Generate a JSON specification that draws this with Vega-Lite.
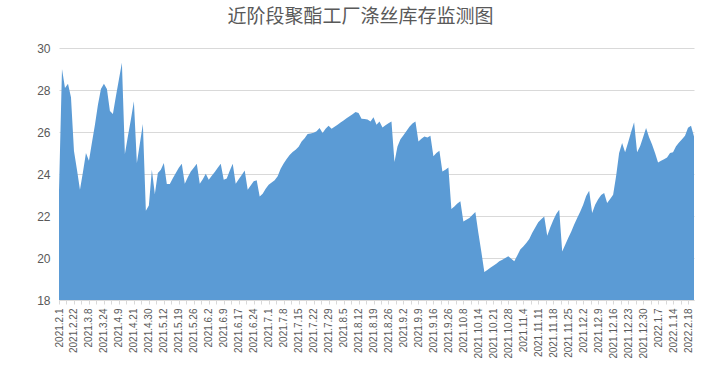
{
  "$schema": "https://vega.github.io/schema/vega-lite/v6.json",
  "width": 635,
  "height": 252,
  "autosize": {"type": "none"},
  "padding": {"left": 59, "top": 48, "right": 27, "bottom": 73},
  "background": "white",
  "title": {
    "text": "近阶段聚酯工厂涤丝库存监测图",
    "font": "Noto Sans CJK SC",
    "fontSize": 19,
    "fontWeight": "normal",
    "color": "#595959",
    "anchor": "middle",
    "dx": -16,
    "offset": 15
  },
  "data": {"values": [
    {"i":0,"v":23.2},{"i":1,"v":29.0},{"i":2,"v":28.1},{"i":3,"v":28.3},{"i":4,"v":27.65},{"i":5,"v":25.1},{"i":6,"v":24.2},{"i":7,"v":23.25},{"i":8,"v":24.1},{"i":9,"v":25.0},
    {"i":10,"v":24.63},{"i":11,"v":25.5},{"i":12,"v":26.35},{"i":13,"v":27.3},{"i":14,"v":28.05},{"i":15,"v":28.3},{"i":16,"v":28.05},{"i":17,"v":27.0},{"i":18,"v":26.86},{"i":19,"v":27.7},
    {"i":20,"v":28.5},{"i":21,"v":29.3},{"i":22,"v":24.95},{"i":23,"v":25.8},{"i":24,"v":26.6},{"i":25,"v":27.46},{"i":26,"v":24.52},{"i":27,"v":25.45},{"i":28,"v":26.38},{"i":29,"v":22.25},
    {"i":30,"v":22.5},{"i":31,"v":24.2},{"i":32,"v":23.05},{"i":33,"v":24.05},{"i":34,"v":24.2},{"i":35,"v":24.52},{"i":36,"v":23.52},{"i":37,"v":23.52},{"i":38,"v":23.8},{"i":39,"v":24.05},
    {"i":40,"v":24.3},{"i":41,"v":24.49},{"i":42,"v":23.54},{"i":43,"v":23.85},{"i":44,"v":24.12},{"i":45,"v":24.3},{"i":46,"v":24.49},{"i":47,"v":23.54},{"i":48,"v":23.75},{"i":49,"v":24.01},
    {"i":50,"v":23.73},{"i":51,"v":23.92},{"i":52,"v":24.1},{"i":53,"v":24.3},{"i":54,"v":24.49},{"i":55,"v":23.73},{"i":56,"v":23.78},{"i":57,"v":24.15},{"i":58,"v":24.49},{"i":59,"v":23.54},
    {"i":60,"v":23.75},{"i":61,"v":23.95},{"i":62,"v":24.17},{"i":63,"v":23.25},{"i":64,"v":23.45},{"i":65,"v":23.65},{"i":66,"v":23.7},{"i":67,"v":22.93},{"i":68,"v":23.06},{"i":69,"v":23.3},
    {"i":70,"v":23.49},{"i":71,"v":23.6},{"i":72,"v":23.7},{"i":73,"v":23.89},{"i":74,"v":24.25},{"i":75,"v":24.5},{"i":76,"v":24.71},{"i":77,"v":24.9},{"i":78,"v":25.05},{"i":79,"v":25.15},
    {"i":80,"v":25.3},{"i":81,"v":25.55},{"i":82,"v":25.7},{"i":83,"v":25.9},{"i":84,"v":25.93},{"i":85,"v":25.96},{"i":86,"v":26.03},{"i":87,"v":26.19},{"i":88,"v":25.95},{"i":89,"v":26.15},
    {"i":90,"v":26.3},{"i":91,"v":26.16},{"i":92,"v":26.25},{"i":93,"v":26.35},{"i":94,"v":26.45},{"i":95,"v":26.55},{"i":96,"v":26.65},{"i":97,"v":26.75},{"i":98,"v":26.85},{"i":99,"v":26.95},
    {"i":100,"v":26.9},{"i":101,"v":26.63},{"i":102,"v":26.62},{"i":103,"v":26.59},{"i":104,"v":26.5},{"i":105,"v":26.7},{"i":106,"v":26.35},{"i":107,"v":26.5},{"i":108,"v":26.22},{"i":109,"v":26.32},
    {"i":110,"v":26.42},{"i":111,"v":26.5},{"i":112,"v":24.57},{"i":113,"v":25.31},{"i":114,"v":25.65},{"i":115,"v":25.85},{"i":116,"v":26.05},{"i":117,"v":26.25},{"i":118,"v":26.4},{"i":119,"v":26.5},
    {"i":120,"v":25.55},{"i":121,"v":25.68},{"i":122,"v":25.79},{"i":123,"v":25.74},{"i":124,"v":25.82},{"i":125,"v":24.84},{"i":126,"v":25.0},{"i":127,"v":25.11},{"i":128,"v":24.12},{"i":129,"v":24.2},
    {"i":130,"v":24.31},{"i":131,"v":22.33},{"i":132,"v":22.45},{"i":133,"v":22.6},{"i":134,"v":22.7},{"i":135,"v":21.74},{"i":136,"v":21.82},{"i":137,"v":21.9},{"i":138,"v":22.05},{"i":139,"v":22.19},
    {"i":140,"v":21.2},{"i":141,"v":20.3},{"i":142,"v":19.33},{"i":143,"v":19.43},{"i":144,"v":19.53},{"i":145,"v":19.63},{"i":146,"v":19.73},{"i":147,"v":19.84},{"i":148,"v":19.92},{"i":149,"v":20.0},
    {"i":150,"v":20.08},{"i":151,"v":19.96},{"i":152,"v":19.84},{"i":153,"v":20.12},{"i":154,"v":20.4},{"i":155,"v":20.55},{"i":156,"v":20.72},{"i":157,"v":20.9},{"i":158,"v":21.2},{"i":159,"v":21.45},
    {"i":160,"v":21.7},{"i":161,"v":21.85},{"i":162,"v":21.98},{"i":163,"v":21.06},{"i":164,"v":21.45},{"i":165,"v":21.8},{"i":166,"v":22.1},{"i":167,"v":22.3},{"i":168,"v":20.31},{"i":169,"v":20.63},
    {"i":170,"v":20.95},{"i":171,"v":21.25},{"i":172,"v":21.6},{"i":173,"v":21.9},{"i":174,"v":22.2},{"i":175,"v":22.54},{"i":176,"v":22.95},{"i":177,"v":23.2},{"i":178,"v":22.14},{"i":179,"v":22.54},
    {"i":180,"v":22.8},{"i":181,"v":23.0},{"i":182,"v":23.1},{"i":183,"v":22.62},{"i":184,"v":22.81},{"i":185,"v":23.01},{"i":186,"v":23.9},{"i":187,"v":25.0},{"i":188,"v":25.48},{"i":189,"v":25.03},
    {"i":190,"v":25.5},{"i":191,"v":26.0},{"i":192,"v":26.46},{"i":193,"v":25.03},{"i":194,"v":25.32},{"i":195,"v":25.75},{"i":196,"v":26.19},{"i":197,"v":25.75},{"i":198,"v":25.4},{"i":199,"v":25.0},
    {"i":200,"v":24.55},{"i":201,"v":24.63},{"i":202,"v":24.7},{"i":203,"v":24.78},{"i":204,"v":25.0},{"i":205,"v":25.03},{"i":206,"v":25.32},{"i":207,"v":25.5},{"i":208,"v":25.65},{"i":209,"v":25.82},
    {"i":210,"v":26.2},{"i":211,"v":26.3},{"i":212,"v":25.79}
  ]},
  "mark": {"type": "area", "color": "#5B9BD5", "opacity": 1, "interpolate": "linear"},
  "encoding": {
    "x": {
      "field": "i",
      "type": "quantitative",
      "scale": {"domain": [0, 212], "nice": false, "zero": false},
      "axis": {
        "title": null,
        "grid": false,
        "values": [0,2.5,5,7.5,10,12.5,15,17.5,20,22.5,25,27.5,30,32.5,35,37.5,40,42.5,45,47.5,50,52.5,55,57.5,60,62.5,65,67.5,70,72.5,75,77.5,80,82.5,85,87.5,90,92.5,95,97.5,100,102.5,105,107.5,110,112.5,115,117.5,120,122.5,125,127.5,130,132.5,135,137.5,140,142.5,145,147.5,150,152.5,155,157.5,160,162.5,165,167.5,170,172.5,175,177.5,180,182.5,185,187.5,190,192.5,195,197.5,200,202.5,205,207.5,210],
        "labelExpr": "datum.value % 5 == 0 ? ['2021.2.1','2021.2.22','2021.3.8','2021.3.24','2021.4.9','2021.4.21','2021.4.30','2021.5.12','2021.5.19','2021.5.26','2021.6.2','2021.6.9','2021.6.17','2021.6.24','2021.7.1','2021.7.8','2021.7.15','2021.7.22','2021.7.29','2021.8.5','2021.8.12','2021.8.19','2021.8.26','2021.9.2','2021.9.9','2021.9.16','2021.9.26','2021.10.8','2021.10.14','2021.10.21','2021.10.28','2021.11.4','2021.11.11','2021.11.18','2021.11.25','2021.12.2','2021.12.9','2021.12.16','2021.12.23','2021.12.30','2022.1.7','2022.1.14','2022.2.18'][datum.value / 5] : ''",
        "labelAngle": -90,
        "labelAlign": "right",
        "labelBaseline": "middle",
        "labelOverlap": false,
        "labelBound": false,
        "labelFlush": false,
        "labelFont": "Liberation Sans",
        "labelFontSize": 10,
        "labelColor": "#595959",
        "labelPadding": 4,
        "ticks": true,
        "tickSize": 4,
        "tickColor": "#D9D9D9",
        "domain": true,
        "domainColor": "#D9D9D9"
      }
    },
    "y": {
      "field": "v",
      "type": "quantitative",
      "scale": {"domain": [18, 30], "nice": false, "zero": false},
      "axis": {
        "title": null,
        "values": [18, 20, 22, 24, 26, 28, 30],
        "grid": true,
        "gridColor": "#D9D9D9",
        "gridWidth": 1,
        "domain": false,
        "ticks": false,
        "labelPadding": 9,
        "labelFont": "Liberation Sans",
        "labelFontSize": 12,
        "labelColor": "#595959"
      }
    },
    "y2": {"datum": 18}
  },
  "config": {"view": {"stroke": null}}
}
